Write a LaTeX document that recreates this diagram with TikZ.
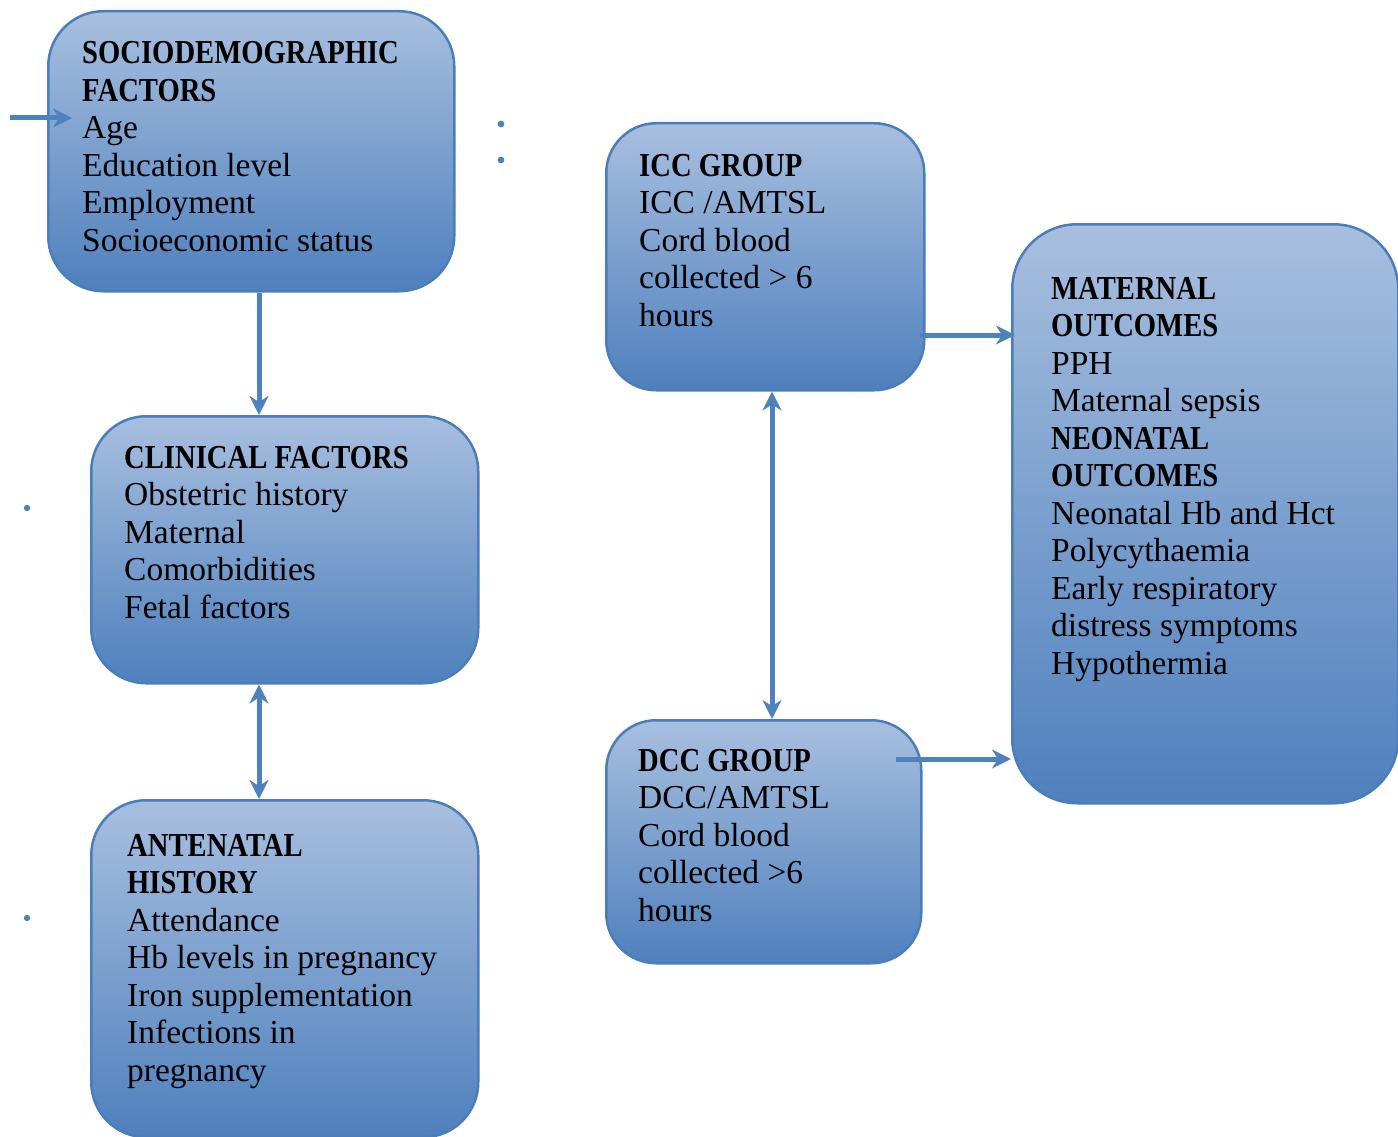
\documentclass[tikz,border=0pt]{standalone}
\usepackage{fontspec}
\setmainfont{Liberation Serif}[BoldFeatures={FakeStretch=0.855}]
\usetikzlibrary{arrows.meta}
\definecolor{boxtop}{HTML}{A8BFDF}
\definecolor{boxbot}{HTML}{4E80BD}
\definecolor{boxline}{HTML}{4A7EBB}
\definecolor{arrc}{HTML}{4F81BD}
\newcommand{\boxtext}[1]{\fontsize{33.5}{37.5}\selectfont\begin{tabular}[t]{@{}l@{}}#1\end{tabular}}
\tikzset{
  box/.style={draw=boxline, line width=2.5pt, rounded corners=55pt, top color=boxtop, bottom color=boxbot, anchor=north west, inner sep=0pt},
  txt/.style={anchor=base west, inner sep=0pt, text=black},
  arr/.style={draw=arrc, line width=5pt, -{Stealth[length=19pt,width=19pt,inset=6pt]}},
  darr/.style={draw=arrc, line width=5pt, {Stealth[length=19pt,width=19pt,inset=6pt]}-{Stealth[length=19pt,width=19pt,inset=6pt]}},
  speck/.style={fill=arrc}
}
\begin{document}
\begin{tikzpicture}[x=1pt,y=-1pt]
\useasboundingbox (0,0) rectangle (1398,1137);
% boxes
\node[box, minimum width=406, minimum height=280] (b1) at (47,10) {};
\node[box, minimum width=387, minimum height=267] (b2) at (90,415) {};
\node[box, minimum width=387, minimum height=337] (b3) at (90,799) {};
\node[box, minimum width=318, minimum height=267, rounded corners=50pt] (b4) at (605,122) {};
\node[box, minimum width=315, minimum height=243, rounded corners=50pt] (b5) at (605,719) {};
\node[box, minimum width=386, minimum height=579, rounded corners=65pt] (b6) at (1011,223) {};
% texts
\node[txt] (t1) at (82,64) {\boxtext{\textbf{SOCIODEMOGRAPHIC}\\\textbf{FACTORS}\\Age\\Education level\\Employment\\Socioeconomic status}};
\node[txt] (t2) at (124,468) {\boxtext{\textbf{CLINICAL FACTORS}\\Obstetric history\\Maternal\\Comorbidities\\Fetal factors}};
\node[txt] (t3) at (127,856) {\boxtext{\textbf{ANTENATAL}\\\textbf{HISTORY}\\Attendance\\Hb levels in pregnancy\\Iron supplementation\\Infections in\\pregnancy}};
\node[txt] (t4) at (639,176) {\boxtext{\textbf{ICC GROUP}\\ICC /AMTSL\\Cord blood\\collected > 6\\hours}};
\node[txt] (t5) at (638,771) {\boxtext{\textbf{DCC GROUP}\\DCC/AMTSL\\Cord blood\\collected >6\\hours}};
\node[txt] (t6) at (1051,299) {\boxtext{\textbf{MATERNAL}\\\textbf{OUTCOMES}\\PPH\\Maternal sepsis\\\textbf{NEONATAL}\\\textbf{OUTCOMES}\\Neonatal Hb and Hct\\Polycythaemia\\Early respiratory\\distress symptoms\\Hypothermia}};
% helper coordinates
\coordinate (L0) at (10,118);
\coordinate (L1) at (72,118);
\coordinate (x1) at (259,0);
\coordinate (x2) at (772,0);
\coordinate (y1) at (920,335);
\coordinate (d0) at (896,759);
% connectors
\draw[arr] (L0) -- (L1);
\draw[arr] (b1.south -| x1) -- (b2.north -| x1);
\draw[darr] (b2.south -| x1) -- (b3.north -| x1);
\draw[darr] (b4.south -| x2) -- (b5.north -| x2);
\draw[arr] (y1) -- ([xshift=4pt]b6.west |- y1);
\draw[arr] (d0) -- (b6.west |- d0);
% specks
\fill[speck] (501,124) circle (3.4);
\fill[speck] (501,160) circle (3.4);
\fill[speck] (27,508) circle (3.2);
\fill[speck] (27,918) circle (3.2);
\end{tikzpicture}
\end{document}
